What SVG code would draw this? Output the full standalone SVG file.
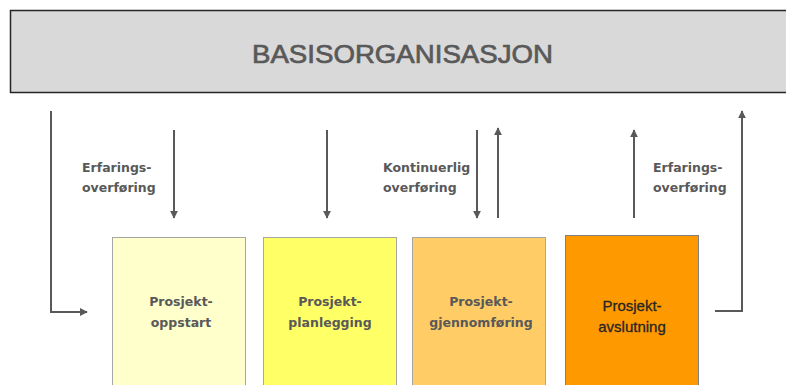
<svg xmlns="http://www.w3.org/2000/svg" width="786" height="385" viewBox="0 0 786 385">
  <style>
    .conn { stroke: #595959; stroke-width: 2; fill: none; }
    .lbl { font-family: "DejaVu Sans", Verdana, sans-serif; font-weight: bold; font-size: 12.5px; fill: #595959; }
    .phase { stroke: #a6a6a6; stroke-width: 1; }
    .ptxt { font-family: "DejaVu Sans", Verdana, sans-serif; font-weight: bold; font-size: 12.5px; fill: #595959; text-anchor: middle; }
  </style>
  <defs>
    <marker id="arrow" viewBox="0 0 10 10" refX="9" refY="5" markerWidth="4" markerHeight="4" orient="auto" markerUnits="strokeWidth">
      <path d="M0,0 L10,5 L0,10 Z" fill="#595959"/>
    </marker>
  </defs>
  <rect width="786" height="385" fill="#ffffff"/>

  <!-- base organisation banner -->
  <g id="basis">
    <rect x="10.5" y="10.5" width="790" height="82" fill="#d9d9d9" stroke="#262626" stroke-width="1.5"/>
    <text x="252" y="63" font-family="'Liberation Sans', Arial, sans-serif" font-size="26" fill="#595959" stroke="#595959" stroke-width="0.7" textLength="301" lengthAdjust="spacingAndGlyphs">BASISORGANISASJON</text>
  </g>

  <!-- project phases -->
  <g id="oppstart">
    <rect class="phase" x="112.5" y="237.5" width="133" height="160" fill="#ffffcc"/>
    <text class="ptxt" x="181" y="306">Prosjekt-</text>
    <text class="ptxt" x="181" y="327">oppstart</text>
  </g>
  <g id="planlegging">
    <rect class="phase" x="263.5" y="237.5" width="133" height="160" fill="#ffff66"/>
    <text class="ptxt" x="330" y="306">Prosjekt-</text>
    <text class="ptxt" x="330" y="327">planlegging</text>
  </g>
  <g id="gjennomforing">
    <rect class="phase" x="412.5" y="237.5" width="133" height="160" fill="#ffcc66"/>
    <text class="ptxt" x="481" y="306">Prosjekt-</text>
    <text class="ptxt" x="481" y="327">gjennomføring</text>
  </g>
  <g id="avslutning">
    <rect x="565.5" y="235.5" width="133" height="160" fill="#ff9900" stroke="#7f7f7f" stroke-width="1"/>
    <text x="632" y="311" font-family="'Liberation Sans', Arial, sans-serif" font-size="15" fill="#262626" stroke="#262626" stroke-width="0.3" text-anchor="middle">Prosjekt-</text>
    <text x="632" y="332" font-family="'Liberation Sans', Arial, sans-serif" font-size="15" fill="#262626" stroke="#262626" stroke-width="0.3" text-anchor="middle">avslutning</text>
  </g>

  <!-- transfer labels -->
  <g id="labels">
    <text class="lbl" x="82" y="172">Erfarings-</text>
    <text class="lbl" x="82" y="192">overføring</text>
    <text class="lbl" x="383" y="172">Kontinuerlig</text>
    <text class="lbl" x="383" y="192">overføring</text>
    <text class="lbl" x="653" y="172">Erfarings-</text>
    <text class="lbl" x="653" y="192">overføring</text>
  </g>

  <!-- connectors -->
  <g id="connectors">
    <path class="conn" d="M51,111 V312 H87" marker-end="url(#arrow)"/>
    <path class="conn" d="M174,130 V218" marker-end="url(#arrow)"/>
    <path class="conn" d="M327,130 V218" marker-end="url(#arrow)"/>
    <path class="conn" d="M477,130 V218" marker-end="url(#arrow)"/>
    <path class="conn" d="M498,218 V128" marker-end="url(#arrow)"/>
    <path class="conn" d="M634,218 V130" marker-end="url(#arrow)"/>
    <path class="conn" d="M715,311 H742 V111" marker-end="url(#arrow)"/>
  </g>
</svg>
